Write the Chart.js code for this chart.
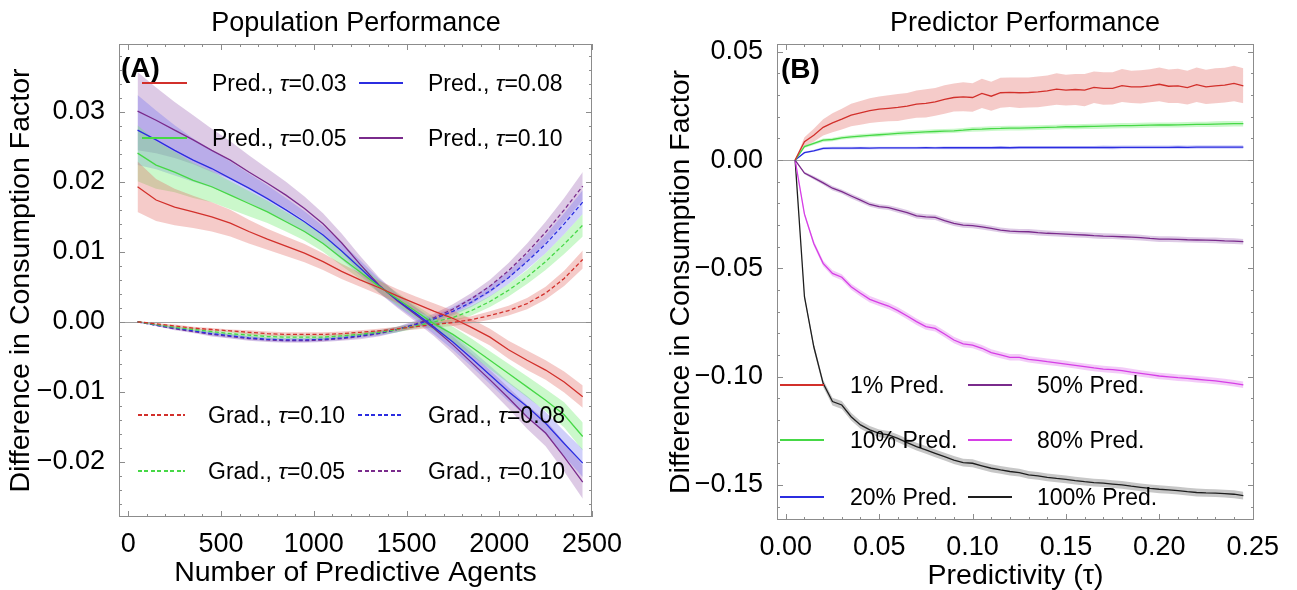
<!DOCTYPE html>
<html><head><meta charset="utf-8">
<script src="https://cdn.jsdelivr.net/npm/chart.js@4.4.1/dist/chart.umd.min.js"></script>
<style>
html,body{margin:0;padding:0;background:#fff;}
#wrap{position:relative;width:1297px;height:590px;overflow:hidden;font-family:"Liberation Sans",Arial,sans-serif;}
.cv{position:absolute;top:0;}
.txt{position:absolute;white-space:nowrap;color:#000;line-height:1;}
.ln{position:absolute;height:1.4px;}
</style></head>
<body><div id="wrap">
<div class="cv" style="left:0"><canvas id="c1" width="648" height="590"></canvas></div>
<div class="cv" style="left:648px"><canvas id="c2" width="649" height="590"></canvas></div>
</div>
<script>
// ---------------- DATA: panel A ----------------
const agents = [50,150,250,350,450,550,650,750,850,950,1050,1150,1250,1350,1450,1550,1650,1750,1850,1950,2050,2150,2250,2350,2450];
const predTau03 = [0.0193,0.0174,0.0164,0.0157,0.0150,0.0141,0.0129,0.0118,0.0108,0.0098,0.0086,0.0072,0.0060,0.0049,0.0037,0.0026,0.0015,0.0005,-0.0008,-0.0022,-0.0040,-0.0055,-0.0069,-0.0086,-0.0107];
const predTau05 = [0.0241,0.0224,0.0214,0.0202,0.0193,0.0181,0.0169,0.0157,0.0143,0.0129,0.0112,0.0091,0.0071,0.0051,0.0033,0.0015,-0.0003,-0.0018,-0.0036,-0.0055,-0.0074,-0.0093,-0.0112,-0.0133,-0.0164];
const predTau08 = [0.0274,0.0260,0.0245,0.0231,0.0219,0.0205,0.0191,0.0176,0.0160,0.0143,0.0124,0.0101,0.0077,0.0052,0.0031,0.0012,-0.0008,-0.0029,-0.0052,-0.0076,-0.0100,-0.0121,-0.0145,-0.0174,-0.0202];
const predTau10 = [0.0301,0.0288,0.0274,0.0260,0.0245,0.0231,0.0214,0.0198,0.0181,0.0162,0.0140,0.0113,0.0082,0.0053,0.0030,0.0010,-0.0010,-0.0033,-0.0058,-0.0083,-0.0109,-0.0136,-0.0159,-0.0193,-0.0229];
const predErr03 = [0.0036,0.0030,0.0026,0.0023,0.0021,0.0019,0.0017,0.0015,0.0014,0.0013,0.0012,0.0011,0.0010,0.0010,0.0010,0.0010,0.0011,0.0011,0.0012,0.0012,0.0013,0.0014,0.0014,0.0015,0.0016];
const predErr05 = [0.0040,0.0034,0.0029,0.0025,0.0022,0.0020,0.0018,0.0016,0.0014,0.0013,0.0012,0.0011,0.0010,0.0009,0.0009,0.0009,0.0010,0.0011,0.0012,0.0013,0.0014,0.0015,0.0016,0.0018,0.0020];
const predErr08 = [0.0050,0.0042,0.0036,0.0031,0.0027,0.0024,0.0021,0.0019,0.0017,0.0015,0.0013,0.0012,0.0011,0.0010,0.0009,0.0009,0.0010,0.0011,0.0012,0.0013,0.0014,0.0015,0.0016,0.0018,0.0020];
const predErr10 = [0.0056,0.0047,0.0040,0.0035,0.0031,0.0027,0.0024,0.0021,0.0019,0.0017,0.0015,0.0013,0.0012,0.0011,0.0010,0.0010,0.0011,0.0012,0.0013,0.0014,0.0015,0.0017,0.0019,0.0021,0.0024];
const gradRed    = [0.0000,-0.0003,-0.0006,-0.0009,-0.0011,-0.0013,-0.0015,-0.0017,-0.0018,-0.0018,-0.0018,-0.0017,-0.0015,-0.0013,-0.0010,-0.0007,-0.0004,-0.0001,0.0003,0.0009,0.0016,0.0026,0.0041,0.0062,0.0089];
const gradGreen  = [0.0000,-0.0004,-0.0008,-0.0011,-0.0014,-0.0017,-0.0019,-0.0021,-0.0022,-0.0022,-0.0022,-0.0020,-0.0018,-0.0015,-0.0011,-0.0006,0.0000,0.0006,0.0016,0.0029,0.0045,0.0064,0.0086,0.0111,0.0138];
const gradBlue   = [0.0000,-0.0005,-0.0009,-0.0013,-0.0017,-0.0020,-0.0023,-0.0025,-0.0026,-0.0026,-0.0025,-0.0023,-0.0020,-0.0016,-0.0011,-0.0004,0.0004,0.0015,0.0028,0.0044,0.0063,0.0086,0.0111,0.0140,0.0171];
const gradPurple = [0.0000,-0.0005,-0.0010,-0.0014,-0.0018,-0.0021,-0.0024,-0.0026,-0.0027,-0.0027,-0.0026,-0.0024,-0.0021,-0.0017,-0.0011,-0.0003,0.0006,0.0018,0.0033,0.0051,0.0073,0.0099,0.0128,0.0160,0.0194];
const gradErrRed    = [0.0001,0.0001,0.0002,0.0002,0.0002,0.0002,0.0003,0.0003,0.0003,0.0003,0.0003,0.0003,0.0003,0.0003,0.0003,0.0004,0.0004,0.0005,0.0005,0.0006,0.0007,0.0008,0.0009,0.0011,0.0013];
const gradErrGreen  = [0.0001,0.0001,0.0002,0.0002,0.0002,0.0003,0.0003,0.0003,0.0003,0.0003,0.0003,0.0003,0.0003,0.0003,0.0004,0.0004,0.0005,0.0006,0.0007,0.0008,0.0009,0.0010,0.0012,0.0014,0.0016];
const gradErrBlue   = [0.0001,0.0001,0.0002,0.0002,0.0003,0.0003,0.0003,0.0003,0.0003,0.0003,0.0003,0.0003,0.0003,0.0004,0.0004,0.0004,0.0005,0.0006,0.0007,0.0008,0.0009,0.0011,0.0013,0.0015,0.0017];
const gradErrPurple = [0.0001,0.0001,0.0002,0.0002,0.0003,0.0003,0.0003,0.0003,0.0003,0.0003,0.0003,0.0003,0.0004,0.0004,0.0004,0.0005,0.0006,0.0007,0.0008,0.0009,0.0011,0.0013,0.0015,0.0017,0.0020];
const xTicksA = [0,500,1000,1500,2000,2500];
const yTicksA = [-0.02,-0.01,0,0.01,0.02,0.03];

// ---------------- DATA: panel B ----------------
const tau = [0.005,0.010,0.015,0.020,0.025,0.030,0.035,0.040,0.045,0.050,0.055,0.060,0.065,0.070,0.075,0.080,0.085,0.090,0.095,0.100,0.105,0.110,0.115,0.120,0.125,0.130,0.135,0.140,0.145,0.150,0.155,0.160,0.165,0.170,0.175,0.180,0.185,0.190,0.195,0.200,0.205,0.210,0.215,0.220,0.225,0.230,0.235,0.240,0.245];
const pred1   = [0,0.0085,0.0115,0.0151,0.0172,0.0189,0.0208,0.0218,0.0228,0.0235,0.0239,0.0243,0.0249,0.0258,0.0262,0.0269,0.0280,0.0289,0.0292,0.0289,0.0308,0.0295,0.0311,0.0313,0.0311,0.0312,0.0315,0.0320,0.0328,0.0323,0.0326,0.0323,0.0336,0.0331,0.0331,0.0344,0.0338,0.0338,0.0343,0.0350,0.0341,0.0343,0.0335,0.0348,0.0338,0.0343,0.0346,0.0354,0.0343];
const pred10  = [0,0.0062,0.0077,0.0092,0.0095,0.0103,0.0107,0.0111,0.0114,0.0117,0.0120,0.0123,0.0126,0.0128,0.0130,0.0132,0.0134,0.0135,0.0138,0.0142,0.0143,0.0145,0.0146,0.0148,0.0148,0.0149,0.0150,0.0151,0.0152,0.0154,0.0154,0.0155,0.0156,0.0157,0.0158,0.0159,0.0159,0.0160,0.0161,0.0162,0.0162,0.0163,0.0164,0.0165,0.0165,0.0166,0.0167,0.0168,0.0168];
const pred20  = [0,0.0034,0.0043,0.0054,0.0055,0.0055,0.0055,0.0056,0.0055,0.0056,0.0056,0.0056,0.0056,0.0056,0.0057,0.0056,0.0057,0.0057,0.0057,0.0057,0.0057,0.0057,0.0058,0.0057,0.0058,0.0058,0.0058,0.0058,0.0058,0.0058,0.0058,0.0058,0.0058,0.0059,0.0058,0.0059,0.0059,0.0059,0.0059,0.0059,0.0059,0.0060,0.0059,0.0060,0.0060,0.0060,0.0060,0.0060,0.0060];
const pred50  = [0,-0.0060,-0.0082,-0.0105,-0.0130,-0.0146,-0.0166,-0.0185,-0.0205,-0.0215,-0.0220,-0.0231,-0.0243,-0.0258,-0.0262,-0.0265,-0.0280,-0.0292,-0.0300,-0.0303,-0.0308,-0.0315,-0.0323,-0.0328,-0.0330,-0.0331,-0.0335,-0.0338,-0.0340,-0.0342,-0.0344,-0.0346,-0.0349,-0.0351,-0.0352,-0.0354,-0.0356,-0.0358,-0.0362,-0.0365,-0.0365,-0.0366,-0.0368,-0.0369,-0.0370,-0.0371,-0.0373,-0.0374,-0.0377];
const pred80  = [0,-0.0250,-0.0385,-0.0477,-0.0523,-0.0541,-0.0585,-0.0615,-0.0643,-0.0659,-0.0674,-0.0695,-0.0720,-0.0746,-0.0769,-0.0777,-0.0803,-0.0831,-0.0849,-0.0854,-0.0869,-0.0889,-0.0900,-0.0911,-0.0911,-0.0920,-0.0925,-0.0931,-0.0936,-0.0942,-0.0948,-0.0954,-0.0960,-0.0965,-0.0968,-0.0972,-0.0979,-0.0985,-0.0991,-0.0997,-0.1001,-0.1005,-0.1008,-0.1012,-0.1016,-0.1020,-0.1025,-0.1031,-0.1038];
const pred100 = [0,-0.0631,-0.0862,-0.1031,-0.1115,-0.1131,-0.1185,-0.1223,-0.1246,-0.1262,-0.1269,-0.1285,-0.1305,-0.1323,-0.1338,-0.1354,-0.1369,-0.1385,-0.1397,-0.1400,-0.1412,-0.1423,-0.1431,-0.1438,-0.1443,-0.1454,-0.1458,-0.1465,-0.1470,-0.1474,-0.1480,-0.1485,-0.1489,-0.1492,-0.1496,-0.1500,-0.1506,-0.1511,-0.1516,-0.1520,-0.1523,-0.1526,-0.1531,-0.1535,-0.1537,-0.1538,-0.1540,-0.1543,-0.1549];
const err1   = [0,0.0020,0.0030,0.0038,0.0044,0.0048,0.0052,0.0055,0.0057,0.0059,0.0060,0.0062,0.0061,0.0063,0.0065,0.0064,0.0066,0.0065,0.0067,0.0066,0.0068,0.0067,0.0069,0.0068,0.0070,0.0069,0.0071,0.0070,0.0073,0.0071,0.0072,0.0074,0.0073,0.0075,0.0074,0.0076,0.0075,0.0077,0.0076,0.0078,0.0077,0.0079,0.0078,0.0080,0.0079,0.0081,0.0080,0.0082,0.0081];
const err10  = [0,0.0006,0.0007,0.0008,0.0008,0.0008,0.0009,0.0009,0.0009,0.0009,0.0009,0.0010,0.0010,0.0010,0.0010,0.0010,0.0010,0.0010,0.0010,0.0011,0.0011,0.0011,0.0011,0.0011,0.0011,0.0011,0.0011,0.0011,0.0011,0.0011,0.0012,0.0012,0.0012,0.0012,0.0012,0.0012,0.0012,0.0012,0.0012,0.0012,0.0012,0.0012,0.0012,0.0012,0.0012,0.0013,0.0013,0.0013,0.0013];
const err20  = [0,0.0004,0.0005,0.0006,0.0006,0.0006,0.0006,0.0006,0.0006,0.0006,0.0006,0.0006,0.0006,0.0006,0.0006,0.0006,0.0007,0.0007,0.0007,0.0007,0.0007,0.0007,0.0007,0.0007,0.0007,0.0007,0.0007,0.0007,0.0007,0.0007,0.0007,0.0007,0.0007,0.0008,0.0008,0.0008,0.0008,0.0008,0.0008,0.0008,0.0008,0.0008,0.0008,0.0008,0.0008,0.0008,0.0008,0.0008,0.0008];
const err50  = [0,0.0006,0.0008,0.0009,0.0010,0.0010,0.0011,0.0011,0.0011,0.0011,0.0011,0.0012,0.0012,0.0012,0.0012,0.0012,0.0012,0.0012,0.0012,0.0012,0.0012,0.0012,0.0012,0.0012,0.0012,0.0013,0.0013,0.0013,0.0013,0.0013,0.0013,0.0013,0.0013,0.0013,0.0013,0.0013,0.0013,0.0013,0.0013,0.0013,0.0013,0.0013,0.0013,0.0013,0.0013,0.0013,0.0013,0.0013,0.0013];
const err80  = [0,0.0010,0.0012,0.0013,0.0014,0.0014,0.0014,0.0015,0.0015,0.0015,0.0015,0.0015,0.0015,0.0015,0.0015,0.0015,0.0015,0.0015,0.0015,0.0015,0.0015,0.0015,0.0015,0.0015,0.0015,0.0015,0.0015,0.0015,0.0015,0.0015,0.0015,0.0015,0.0015,0.0015,0.0015,0.0015,0.0015,0.0015,0.0015,0.0015,0.0015,0.0015,0.0015,0.0015,0.0015,0.0015,0.0015,0.0015,0.0015];
const err100 = [0,0.0012,0.0015,0.0017,0.0018,0.0018,0.0018,0.0018,0.0018,0.0018,0.0018,0.0018,0.0018,0.0018,0.0018,0.0018,0.0018,0.0018,0.0018,0.0018,0.0018,0.0018,0.0018,0.0018,0.0018,0.0018,0.0018,0.0018,0.0018,0.0018,0.0018,0.0018,0.0018,0.0018,0.0018,0.0018,0.0018,0.0018,0.0018,0.0018,0.0018,0.0018,0.0018,0.0018,0.0018,0.0018,0.0018,0.0018,0.0018];
const xTicksB = [0,0.05,0.10,0.15,0.20,0.25];
const yTicksB = [-0.15,-0.10,-0.05,0,0.05];

// ---------------- LABELS ----------------
const titleA = 'Population Performance';
const titleB = 'Predictor Performance';
const xTitleA = 'Number of Predictive Agents';
const xTitleB = 'Predictivity (τ)';
const yTitle = 'Difference in Consumption Factor';
const legendPredA = ['Pred., τ=0.03','Pred., τ=0.08','Pred., τ=0.05','Pred., τ=0.10'];
const legendGradA = ['Grad., τ=0.10','Grad., τ=0.08','Grad., τ=0.05','Grad., τ=0.10'];
const legendB = ['1% Pred.','50% Pred.','10% Pred.','80% Pred.','20% Pred.','100% Pred.'];

// ---------------- STYLE ----------------
const COL = {red:'#d2302b', green:'#46d846', blue:'#2b2de0', purple:'#7a2b8c', magenta:'#d63fe6', black:'#1e1e1e'};
const BAND = {red:'rgba(226,104,96,0.34)', green:'rgba(110,236,110,0.36)', blue:'rgba(110,110,240,0.32)', purple:'rgba(150,90,175,0.32)', magenta:'rgba(222,110,235,0.36)', black:'rgba(0,0,0,0.22)'};
const FONT = '"Liberation Sans", Arial, sans-serif';
Chart.defaults.font.family = FONT;
Chart.defaults.color = '#000';

function fmt(v, d){ let s = (Math.abs(v) < 1e-12 ? 0 : v).toFixed(d); return s.replace('-', '\u2212'); }

function series(xs, ys, errs, color, dashed){
  return {
    band: [
      {data: xs.map((x,i)=>({x:x, y:ys[i]+errs[i]})), borderWidth:0, pointRadius:0, fill:'+1', backgroundColor:BAND[color], borderColor:'rgba(0,0,0,0)'},
      {data: xs.map((x,i)=>({x:x, y:ys[i]-errs[i]})), borderWidth:0, pointRadius:0, fill:false, borderColor:'rgba(0,0,0,0)'}
    ],
    line: {data: xs.map((x,i)=>({x:x, y:ys[i]})), borderColor:COL[color], borderWidth:1.3, pointRadius:0, fill:false, borderDash: dashed?[4,2.5]:[]}
  };
}
function build(list){
  const ds = [];
  list.forEach(s => ds.push(...s.band));
  list.forEach(s => ds.push(s.line));
  return ds;
}

const frameTicks = {
  id:'frameTicks',
  beforeDatasetsDraw(chart){
    const {ctx, chartArea:{left,right}, scales:{y}} = chart;
    const y0 = Math.round(y.getPixelForValue(0)) + 0.5;
    ctx.save(); ctx.strokeStyle='#a0a0a0'; ctx.lineWidth=1;
    ctx.beginPath(); ctx.moveTo(left,y0); ctx.lineTo(right,y0); ctx.stroke(); ctx.restore();
  },
  afterDraw(chart, args, o){
    const {ctx, chartArea:{left,right,top,bottom}, scales:{x,y}} = chart;
    ctx.save(); ctx.strokeStyle='#8c8c8c'; ctx.lineWidth=1;
    ctx.strokeRect(left+0.5, top+0.5, right-left-1, bottom-top-1);
    const doX = (step, len) => {
      for (let i = Math.ceil(x.min/step - 1e-6); i*step <= x.max + 1e-9; i++){
        const px = Math.round(x.getPixelForValue(i*step)) + 0.5;
        ctx.beginPath(); ctx.moveTo(px,bottom); ctx.lineTo(px,bottom-len); ctx.moveTo(px,top); ctx.lineTo(px,top+len); ctx.stroke();
      }
    };
    const doY = (step, len) => {
      for (let i = Math.ceil(y.min/step - 1e-6); i*step <= y.max + 1e-9; i++){
        const py = Math.round(y.getPixelForValue(i*step)) + 0.5;
        ctx.beginPath(); ctx.moveTo(left,py); ctx.lineTo(left+len,py); ctx.moveTo(right,py); ctx.lineTo(right-len,py); ctx.stroke();
      }
    };
    doX(o.xMinor, 3); doX(o.xMajor, 6); doY(o.yMinor, 3); doY(o.yMajor, 6);
    ctx.restore();
  }
};

function makeChart(id, datasets, cfg){
  return new Chart(document.getElementById(id), {
    type:'line',
    data:{datasets: datasets},
    options:{
      responsive:false, animation:false, devicePixelRatio:1,
      layout:{padding:{top:44, right:cfg.padRight, left:0, bottom:0}},
      elements:{line:{tension:0}},
      plugins:{legend:{display:false}, tooltip:{enabled:false}, title:{display:false},
        filler:{propagate:false, drawTime:'beforeDatasetsDraw'},
        frameTicks: cfg.ticks},
      scales:{
        x:{type:'linear', min:cfg.xMin, max:cfg.xMax,
           grid:{display:false}, border:{display:false},
           afterBuildTicks:(s)=>{ s.ticks = cfg.xTicks.map(v=>({value:v})); },
           ticks:{maxRotation:0, autoSkip:false, padding:cfg.xPad,
                  font:{size:27}, color:'#000', callback:cfg.xFmt},
           title:{display:true, text:cfg.xTitle, font:{size:28.5, lineHeight:1}, color:'#000', padding:{top:0, bottom:cfg.xTitlePad}},
           afterFit:(s)=>{ s.height = cfg.xHeight; }},
        y:{type:'linear', min:cfg.yMin, max:cfg.yMax,
           grid:{display:false}, border:{display:false},
           afterBuildTicks:(s)=>{ s.ticks = cfg.yTicks.map(v=>({value:v})); },
           ticks:{autoSkip:false, padding:6,
                  font:{size:27}, color:'#000', callback:(v)=>fmt(v,2)},
           title:{display:true, text:yTitle, font:{size:28.5, lineHeight:1}, color:'#000', padding:{top:cfg.yTitlePad, bottom:0}},
           afterFit:(s)=>{ s.width = cfg.yWidth; }}
      }
    },
    plugins:[frameTicks]
  });
}

const dsA = build([
  series(agents, predTau03, predErr03, 'red', false),
  series(agents, predTau05, predErr05, 'green', false),
  series(agents, predTau08, predErr08, 'blue', false),
  series(agents, predTau10, predErr10, 'purple', false),
  series(agents, gradRed, gradErrRed, 'red', true),
  series(agents, gradGreen, gradErrGreen, 'green', true),
  series(agents, gradBlue, gradErrBlue, 'blue', true),
  series(agents, gradPurple, gradErrPurple, 'purple', true)
]);
makeChart('c1', dsA, {padRight:56, xMin:-50, xMax:2500, xTicks:xTicksA, xFmt:(v)=>String(Math.round(v)), xPad:3, xTitle:xTitleA, xTitlePad:3, xHeight:73,
  yMin:-0.0279, yMax:0.0397, yTicks:yTicksA, yWidth:119, yTitlePad:7,
  ticks:{xMajor:500, xMinor:100, yMajor:0.01, yMinor:0.002}});

const dsB = build([
  series(tau, pred1, err1, 'red', false),
  series(tau, pred10, err10, 'green', false),
  series(tau, pred20, err20, 'blue', false),
  series(tau, pred50, err50, 'purple', false),
  series(tau, pred80, err80, 'magenta', false),
  series(tau, pred100, err100, 'black', false)
]);
makeChart('c2', dsB, {padRight:43, xMin:-0.0047, xMax:0.2507, xTicks:xTicksB, xFmt:(v)=>fmt(v,2), xPad:3, xTitle:xTitleB, xTitlePad:0, xHeight:70,
  yMin:-0.1662, yMax:0.0536, yTicks:yTicksB, yWidth:129, yTitlePad:19,
  ticks:{xMajor:0.05, xMinor:0.01, yMajor:0.05, yMinor:0.01}});

// ---------------- overlay texts / legends ----------------
const wrap = document.getElementById('wrap');
function addText(html, x, y, size, opts){
  const d = document.createElement('div');
  d.className = 'txt'; d.innerHTML = html;
  d.style.left = x+'px'; d.style.top = y+'px'; d.style.fontSize = size+'px';
  if (opts && opts.bold) d.style.fontWeight = 'bold';
  d.style.transform = (opts && opts.center) ? 'translate(-50%,-50%)' : 'translateY(-50%)';
  wrap.appendChild(d);
}
function addLine(x1, x2, y, color, dashed){
  const d = document.createElement('div');
  d.className = 'ln';
  d.style.left = x1+'px'; d.style.top = (y-0.7)+'px'; d.style.width = (x2-x1)+'px';
  d.style.background = dashed ? `repeating-linear-gradient(to right, ${color} 0 4px, transparent 4px 6.5px)` : color;
  wrap.appendChild(d);
}
const it = (s) => s.replace('τ','<i>τ</i>');

addText(titleA, 356, 22, 27, {center:true});
addText(titleB, 1025, 22, 27, {center:true});
addText('(A)', 121, 68, 28, {bold:true});
addText('(B)', 781, 69, 28, {bold:true});

const predColsA = ['red','blue','green','purple'];
const gradColsA = ['red','blue','green','purple'];
const colX = [[142,187,212],[359,403,428]];
legendPredA.forEach((lab,i)=>{
  const c = colX[i%2], y = [83,138][Math.floor(i/2)];
  addLine(c[0], c[1], y, COL[predColsA[i]], false);
  addText(it(lab), c[2], y, 23);
});
const colX2 = [[138,185,208],[358,403,428]];
legendGradA.forEach((lab,i)=>{
  const c = colX2[i%2], y = [415,471][Math.floor(i/2)];
  addLine(c[0], c[1], y, COL[gradColsA[i]], true);
  addText(it(lab), c[2], y, 23);
});
const colsB = ['red','purple','green','magenta','blue','black'];
const colX3 = [[780,824,850],[968,1012,1037]];
legendB.forEach((lab,i)=>{
  const c = colX3[i%2], y = [385,440,497][Math.floor(i/2)];
  addLine(c[0], c[1], y, COL[colsB[i]], false);
  addText(lab, c[2], y, 23);
});
</script>
</body></html>
